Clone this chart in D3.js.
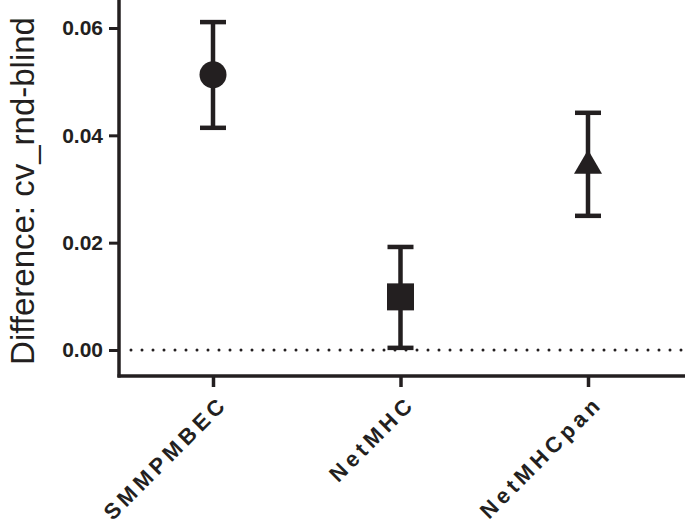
<!DOCTYPE html>
<html><head><meta charset="utf-8">
<script src="https://cdn.jsdelivr.net/npm/d3@7"></script>
<style>body{margin:0;background:#fff}svg{display:block}</style>
</head><body>
<script>
const categories = ["SMMPMBEC", "NetMHC", "NetMHCpan"];
const means = [0.0513, 0.0099, 0.0345];
const lows = [0.0414, 0.0004, 0.0250];
const highs = [0.0611, 0.0192, 0.0442];
const shapes = ["circle", "square", "triangle"];
const yTicks = [0, 0.02, 0.04, 0.06];

const W = 685, H = 527;
const svg = d3.select("body").append("svg").attr("width", W).attr("height", H);
const ink = "#231f20";
const x0 = 119, yAxisBottom = 376;

const y = d3.scaleLinear().domain([0, 0.06]).range([350, 28]);
const x = d3.scalePoint().domain(categories).range([213, 588]);

// zero dotted line
svg.append("line").attr("x1", 131).attr("x2", W).attr("y1", y(0)).attr("y2", y(0))
  .attr("stroke", ink).attr("stroke-width", 3).attr("stroke-linecap", "round")
  .attr("stroke-dasharray", "0 11");

// y axis
const yAx = svg.append("g").attr("transform", `translate(${x0},0)`)
  .call(d3.axisLeft(y).tickValues(yTicks).tickFormat(d3.format(".2f")).tickSize(10).tickPadding(6));
yAx.select(".domain").remove();
yAx.selectAll(".tick line").attr("stroke", ink).attr("stroke-width", 3);
yAx.selectAll(".tick text").attr("fill", ink).attr("font-family", "Liberation Sans, Arial, sans-serif")
  .attr("font-weight", "bold").style("font-size", "21px");
svg.append("line").attr("x1", x0).attr("x2", x0).attr("y1", 0).attr("y2", yAxisBottom + 1.5)
  .attr("stroke", ink).attr("stroke-width", 3.5);

// x axis
const xAx = svg.append("g").attr("transform", `translate(0,${yAxisBottom})`)
  .call(d3.axisBottom(x).tickSize(11).tickFormat(""));
xAx.select(".domain").remove();
xAx.selectAll(".tick line").attr("stroke", ink).attr("stroke-width", 3.5);
svg.append("line").attr("x1", x0 - 1.5).attr("x2", W).attr("y1", yAxisBottom).attr("y2", yAxisBottom)
  .attr("stroke", ink).attr("stroke-width", 3.5);

// x labels
categories.forEach(c => {
  svg.append("text").attr("transform", `translate(${x(c) + 16},${yAxisBottom + 29}) rotate(-45)`)
    .attr("text-anchor", "end").attr("fill", ink)
    .attr("font-family", "Liberation Sans, Arial, sans-serif").attr("font-weight", "bold")
    .style("font-size", "22px").attr("letter-spacing", 4.2).text(c);
});

// y label
svg.append("text").attr("transform", `translate(34,${(20 + 362) / 2}) rotate(-90)`)
  .attr("text-anchor", "middle").attr("fill", ink)
  .attr("font-family", "Liberation Sans, Arial, sans-serif").style("font-size", "33px")
  .text("Difference: cv_rnd-blind");

// error bars
const g = svg.append("g");
categories.forEach((c, i) => {
  const cx = x(c);
  g.append("line").attr("x1", cx).attr("x2", cx).attr("y1", y(lows[i])).attr("y2", y(highs[i]))
    .attr("stroke", ink).attr("stroke-width", 4.5);
  [lows[i], highs[i]].forEach(v => {
    g.append("line").attr("x1", cx - 13).attr("x2", cx + 13).attr("y1", y(v)).attr("y2", y(v))
      .attr("stroke", ink).attr("stroke-width", 4.5);
  });
  const cy = y(means[i]);
  if (shapes[i] === "circle") {
    g.append("circle").attr("cx", cx).attr("cy", cy).attr("r", 13.5).attr("fill", ink);
  } else if (shapes[i] === "square") {
    g.append("rect").attr("x", cx - 13.5).attr("y", cy - 13.5).attr("width", 27).attr("height", 27).attr("fill", ink);
  } else {
    g.append("path").attr("d", `M${cx},${cy - 15}L${cx + 14},${cy + 9}L${cx - 14},${cy + 9}Z`).attr("fill", ink);
  }
});
</script>
</body></html>
